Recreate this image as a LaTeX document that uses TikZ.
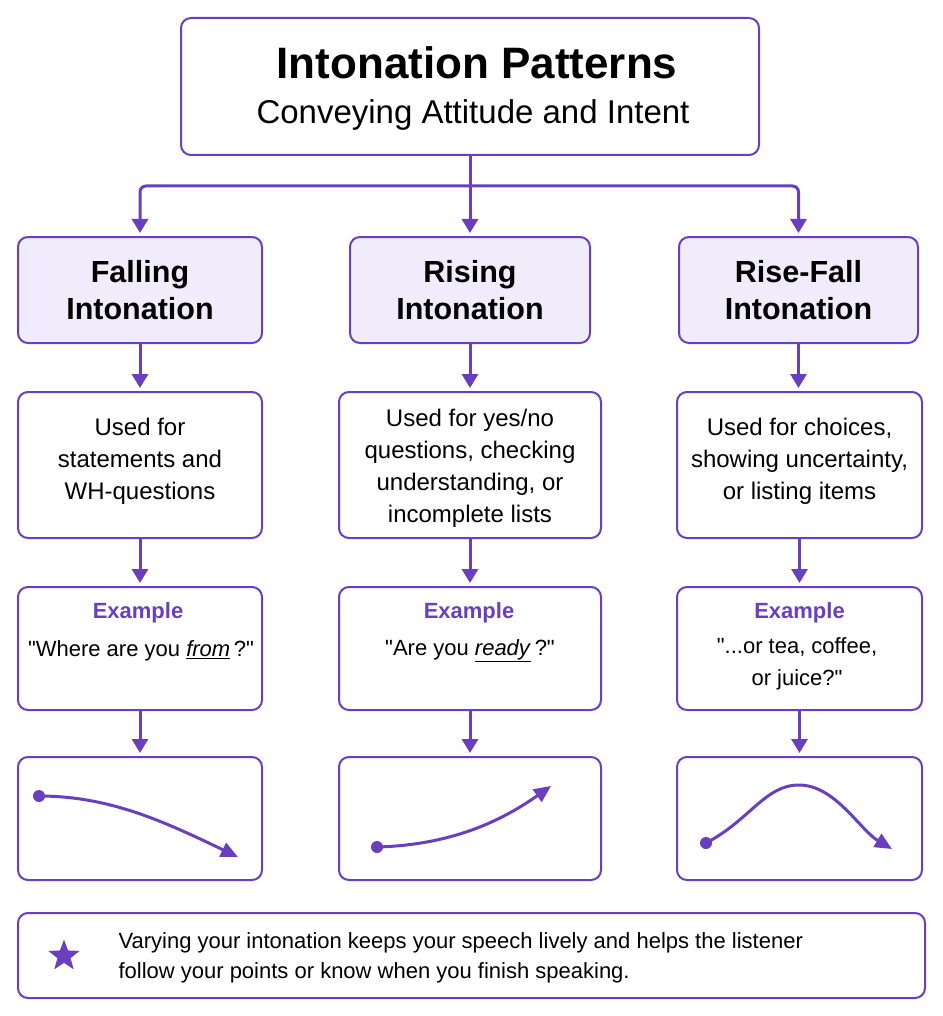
\documentclass[tikz,border=0pt]{standalone}
\usepackage{fontspec}
\setmainfont{Liberation Sans}[Ligatures=TeXOff]
\usetikzlibrary{arrows.meta,shapes.geometric}
\definecolor{pur}{HTML}{6A3FBF}
\definecolor{lav}{HTML}{F1ECFC}
\tikzset{
  box/.style={draw=pur,line width=2pt,rounded corners=10pt,fill=white,align=center,inner sep=0pt},
  headbox/.style={box,fill=lav},
  conn/.style={draw=pur,line width=3pt,-{Triangle[length=14pt,width=16pt]},shorten >=3pt},
  curve/.style={draw=pur,line width=3pt,-{Triangle[length=17pt,width=15pt]}},
  dot/.style={circle,fill=pur,inner sep=0pt,minimum size=12pt},
  headtxt/.style={font=\fontsize{30.5}{37}\selectfont\bfseries,align=center},
  desctxt/.style={font=\fontsize{24}{32}\selectfont,align=center},
  exlab/.style={font=\fontsize{22}{26}\selectfont\bfseries,text=pur},
  extxt/.style={font=\fontsize{22}{32}\selectfont,align=center},
}
\begin{document}
\begin{tikzpicture}[x=1pt,y=-1pt]
\useasboundingbox (0,0) rectangle (942,1016);
% header
\node[box,minimum width=578,minimum height=137] (hdr) at (470,86.5) {};
\node[font=\fontsize{44}{50}\selectfont\bfseries] (title) at (477,63) {Intonation Patterns};
\node[font=\fontsize{33}{38}\selectfont] (sub) at (473,115) {Conveying Attitude and Intent};
% headings
\node[headbox,minimum width=244,minimum height=106] (h1) at (140,290) {};
\node[headtxt] (h1t) at (140,290) {Falling\\Intonation};
\node[headbox,minimum width=240,minimum height=106] (h2) at (470,290) {};
\node[headtxt] (h2t) at (470,290) {Rising\\Intonation};
\node[headbox,minimum width=239,minimum height=106] (h3) at (798.5,290) {};
\node[headtxt] (h3t) at (798.5,290) {Rise-Fall\\Intonation};
% descriptions
\node[box,minimum width=244,minimum height=146] (d1) at (140,465) {};
\node[desctxt] (d1t) at (140,461) {Used for\\statements and\\WH-questions};
\node[box,minimum width=262,minimum height=146] (d2) at (470,465) {};
\node[desctxt] (d2t) at (470,468) {Used for yes/no\\questions, checking\\understanding, or\\incomplete lists};
\node[box,minimum width=245,minimum height=146] (d3) at (799.5,465) {};
\node[desctxt] (d3t) at (799.5,461) {Used for choices,\\showing uncertainty,\\or listing items};
% examples
\node[box,minimum width=244,minimum height=123] (e1) at (140,648.5) {};
\node[exlab] (e1l) at (138,613) {Example};
\node[extxt] (e1t) at (141,651) {"Where are you \underline{\textit{from}}\,?"};
\node[box,minimum width=262,minimum height=123] (e2) at (470,648.5) {};
\node[exlab] (e2l) at (469,613) {Example};
\node[extxt] (e2t) at (470,651) {"Are you \underline{\textit{ready}}\,?"};
\node[box,minimum width=245,minimum height=123] (e3) at (799.5,648.5) {};
\node[exlab] (e3l) at (799.5,613) {Example};
\node[extxt] (e3t) at (797,664) {"...or tea, coffee,\\or juice?"};
% curve boxes
\node[box,minimum width=244,minimum height=123] (c1) at (140,818.5) {};
\node[box,minimum width=262,minimum height=123] (c2) at (470,818.5) {};
\node[box,minimum width=245,minimum height=123] (c3) at (799.5,818.5) {};
% connectors
\coordinate (j) at (470,186);
\draw[conn] (hdr.south) -- (h2.north);
\draw[conn,rounded corners=6pt] (j) -| (h1.north);
\draw[conn,rounded corners=6pt] (j) -| (h3.north);
\foreach \a/\b in {h1/d1,h2/d2,h3/d3,d1/e1,d2/e2,d3/e3,e1/c1,e2/c2,e3/c3}
  \draw[conn] (\a.south) -- (\a.south |- \b.north);
% curves
\node[dot] (p1) at (39,796) {};
\coordinate (q1) at (238,857);
\draw[curve] (p1.center) .. controls (110,796) and (165,822) .. (q1);
\node[dot] (p2) at (377,847) {};
\coordinate (q2) at (551,786);
\draw[curve] (p2.center) .. controls (450,845) and (500,822) .. (q2);
\node[dot] (p3) at (706,843) {};
\coordinate (q3) at (892,849);
\draw[curve] (p3.center) .. controls (750,820) and (765,785) .. (799,785) .. controls (835,785) and (860,830) .. (q3);
% footer
\node[box,minimum width=907,minimum height=85] (ft) at (471.5,955.5) {};
\node[star,star points=5,star point ratio=2.4,fill=pur,minimum size=33pt,inner sep=0pt] (st) at (64,956) {};
\node[font=\fontsize{22}{30}\selectfont,align=left,anchor=west] (ftt) at (115,958) {Varying your intonation keeps your speech lively and helps the listener\\follow your points or know when you finish speaking.};
\end{tikzpicture}
\end{document}
